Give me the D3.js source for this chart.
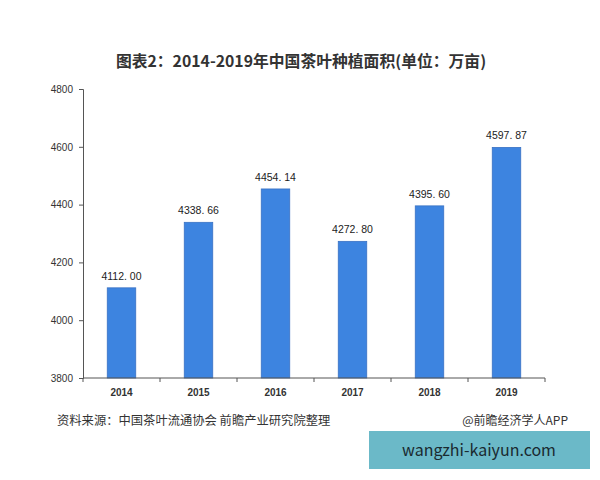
<!DOCTYPE html>
<html>
<head>
<meta charset="utf-8">
<script src="https://cdn.jsdelivr.net/npm/d3@7"></script>
<style>
  body { margin: 0; background: #fff; }
  svg { display: block; font-family: "Noto Sans CJK SC", "Noto Sans", sans-serif; }
  .axis path, .axis line { stroke: #555; }
  .axis text { fill: #333; font-size: 10px; font-family: "Liberation Sans", Arial, sans-serif; }
</style>
</head>
<body>
<div id="chart"></div>
<script>
const years = ["2014", "2015", "2016", "2017", "2018", "2019"];
const areas = [4112.00, 4338.66, 4454.14, 4272.80, 4395.60, 4597.87];
const yTicks = [3800, 4000, 4200, 4400, 4600, 4800];

const data = years.map((y, i) => ({ name: y, value: areas[i] }));

const width = 600;
const height = 480;
const margin = { top: 89, right: 55, bottom: 102, left: 83 };

const svg = d3.select("#chart")
  .append("svg")
  .attr("width", width)
  .attr("height", height);

// title
svg.append("text")
  .attr("x", 301)
  .attr("y", 67)
  .attr("text-anchor", "middle")
  .attr("font-size", 15.8)
  .attr("font-weight", "bold")
  .attr("fill", "#333")
  .text("图表2：2014-2019年中国茶叶种植面积(单位：万亩)");

const x = d3.scaleBand()
  .domain(years)
  .range([margin.left, width - margin.right])
  .paddingInner(0.63)
  .paddingOuter(0.315);

const y = d3.scaleLinear()
  .domain([3800, 4800])
  .range([height - margin.bottom, margin.top]);

// bars
svg.selectAll(".bar")
  .data(data)
  .enter()
  .append("rect")
  .attr("class", "bar")
  .attr("x", (d) => x(d.name))
  .attr("y", (d) => y(d.value))
  .attr("width", x.bandwidth())
  .attr("height", (d) => y(3800) - y(d.value))
  .attr("fill", "#3d84e0")
  .attr("stroke", "#3a72c4")
  .attr("stroke-width", 0.8);

// value labels
svg.selectAll(".val")
  .data(data)
  .enter()
  .append("text")
  .attr("class", "val")
  .attr("x", (d) => x(d.name) + x.bandwidth() / 2)
  .attr("y", (d) => y(d.value) - 8)
  .attr("text-anchor", "middle")
  .attr("font-size", 10.5)
  .attr("font-family", "Liberation Sans, Arial, sans-serif")
  .attr("fill", "#222")
  .text((d) => d3.format(".2f")(d.value).replace(".", ". "));

// y axis
svg.append("g")
  .attr("class", "axis")
  .attr("transform", `translate(${margin.left}, 0)`)
  .call(d3.axisLeft(y).tickValues(yTicks).tickSize(4).tickPadding(6).tickFormat(d3.format("d")));

// x axis with ticks at band edges
const xAxis = svg.append("g")
  .attr("class", "axis")
  .attr("transform", `translate(0, ${height - margin.bottom})`);
xAxis.append("line")
  .attr("x1", margin.left)
  .attr("x2", width - margin.right)
  .attr("stroke", "#555");
const step = x.step();
const edges = d3.range(years.length + 1).map((i) => margin.left + i * step);
xAxis.selectAll(".edge")
  .data(edges)
  .enter()
  .append("line")
  .attr("x1", (d) => d)
  .attr("x2", (d) => d)
  .attr("y1", 0)
  .attr("y2", 4)
  .attr("stroke", "#555");
xAxis.selectAll(".lbl")
  .data(years)
  .enter()
  .append("text")
  .attr("x", (d) => x(d) + x.bandwidth() / 2)
  .attr("y", 18)
  .attr("text-anchor", "middle")
  .style("font-weight", "bold")
  .text((d) => d);

// source
svg.append("text")
  .attr("x", 57)
  .attr("y", 425)
  .attr("font-size", 12.3)
  .attr("fill", "#333")
  .text("资料来源：中国茶叶流通协会 前瞻产业研究院整理");

svg.append("text")
  .attr("x", 568)
  .attr("y", 425)
  .attr("text-anchor", "end")
  .attr("font-size", 12)
  .attr("fill", "#333")
  .text("@前瞻经济学人APP");

// site box
svg.append("rect")
  .attr("x", 369)
  .attr("y", 431)
  .attr("width", 221)
  .attr("height", 38)
  .attr("fill", "#6bb9c8");
svg.append("text")
  .attr("x", 479)
  .attr("y", 456)
  .attr("text-anchor", "middle")
  .attr("font-size", 16)
  .attr("fill", "#1a2a30")
  .text("wangzhi-kaiyun.com");
</script>
</body>
</html>
